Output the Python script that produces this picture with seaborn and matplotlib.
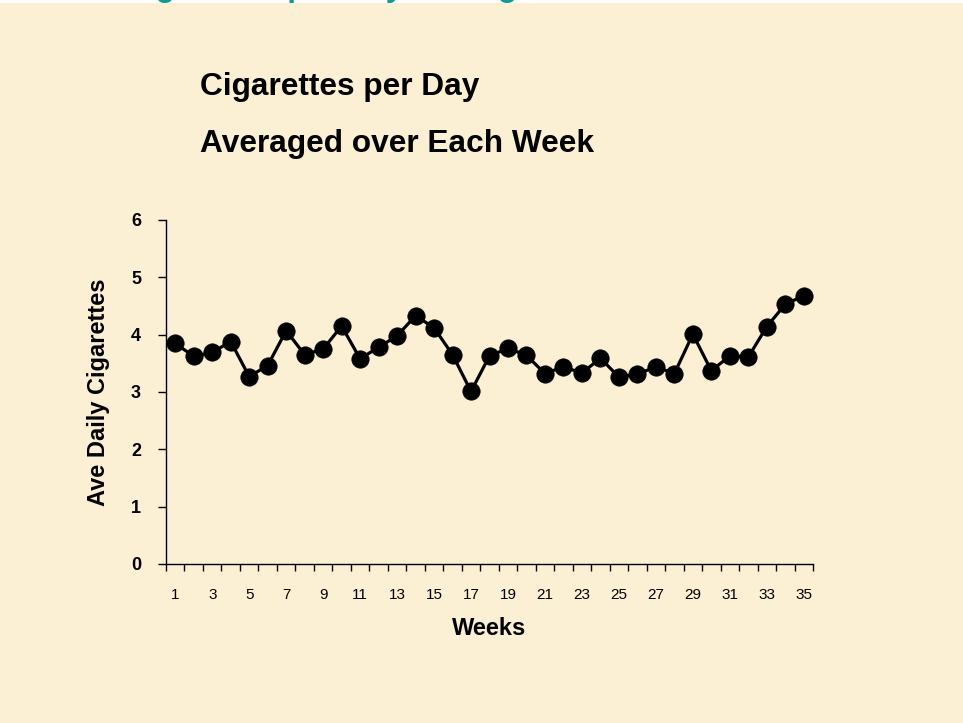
import numpy as np
import pandas as pd
import matplotlib
matplotlib.use("Agg")
import matplotlib.pyplot as plt
import seaborn as sns

# Weekly averages of daily cigarettes
weeks = list(range(1, 36))
ave_daily = [3.85, 3.62, 3.69, 3.88, 3.27, 3.46, 4.07, 3.65, 3.75, 4.15,
             3.58, 3.78, 3.98, 4.33, 4.12, 3.65, 3.01, 3.63, 3.76, 3.64,
             3.32, 3.44, 3.33, 3.59, 3.26, 3.31, 3.44, 3.32, 4.01, 3.37,
             3.63, 3.61, 4.14, 4.53, 4.68]
x_tick_labels = [str(w) for w in weeks if w % 2 == 1]
y_ticks = [0, 1, 2, 3, 4, 5, 6]

df = pd.DataFrame({"Week": weeks, "Ave": ave_daily})

sns.set_style("ticks")
plt.rcParams["font.family"] = ["Liberation Sans", "DejaVu Sans"]
plt.rcParams["text.color"] = "black"
plt.rcParams["axes.labelcolor"] = "black"
plt.rcParams["xtick.color"] = "black"
plt.rcParams["ytick.color"] = "black"

bg = "#FBEFD4"
fig = plt.figure(figsize=(9.63, 7.23), dpi=100, facecolor=bg)
ax = fig.add_axes([166 / 963, 1 - 564 / 723, (813 - 166) / 963, (564 - 220) / 723])
ax.set_facecolor(bg)

sns.lineplot(data=df, x="Week", y="Ave", ax=ax, color="black", linewidth=2.3,
             marker="o", markersize=12.5, markeredgecolor="black",
             markerfacecolor="black", markeredgewidth=0.5)

ax.set_xlim(0.5, 35.5)
ax.set_ylim(0, 6)
sns.despine(ax=ax)
for s in ("left", "bottom"):
    ax.spines[s].set_color("black")
    ax.spines[s].set_linewidth(1.0)

ax.set_yticks(y_ticks)
ax.set_yticklabels([str(v) for v in y_ticks], fontsize=13, fontweight="bold")
ax.tick_params(axis="y", length=6, width=1, color="black", labelcolor="black", pad=12)

odd_weeks = [w for w in weeks if w % 2 == 1]
ax.set_xticks(odd_weeks)
ax.set_xticklabels(x_tick_labels, fontsize=11)
ax.tick_params(axis="x", which="major", length=0, pad=17, labelcolor="black")
ax.set_xticks(np.arange(0.5, 36, 1.0), minor=True)
ax.tick_params(axis="x", which="minor", length=5, width=1, color="black")

ax.set_xlabel("Weeks", fontsize=17, fontweight="bold", labelpad=11, color="black")
ax.set_ylabel("Ave Daily Cigarettes", fontsize=17, fontweight="bold", labelpad=15,
              color="black")

fig.text(200 / 963, 1 - 95 / 723, "Cigarettes per Day", fontsize=22.8,
         fontweight="bold", color="black", ha="left", va="baseline")
fig.text(200 / 963, 1 - 152 / 723, "Averaged over Each Week", fontsize=22.8,
         fontweight="bold", color="black", ha="left", va="baseline")

# slide heading running off the top edge
fig.patches.append(plt.Rectangle((0, 1 - 3 / 723), 1, 3 / 723, transform=fig.transFigure,
                                 facecolor="white", edgecolor="none", zorder=0))
fig.text(124 / 963, 1 + 3.7 / 723, "Cigarettes per Day Averaged over Each Week",
         fontsize=22.8, fontweight="bold", color="#119999", ha="left", va="baseline")

fig.savefig("out.png", dpi=100, facecolor=bg)
